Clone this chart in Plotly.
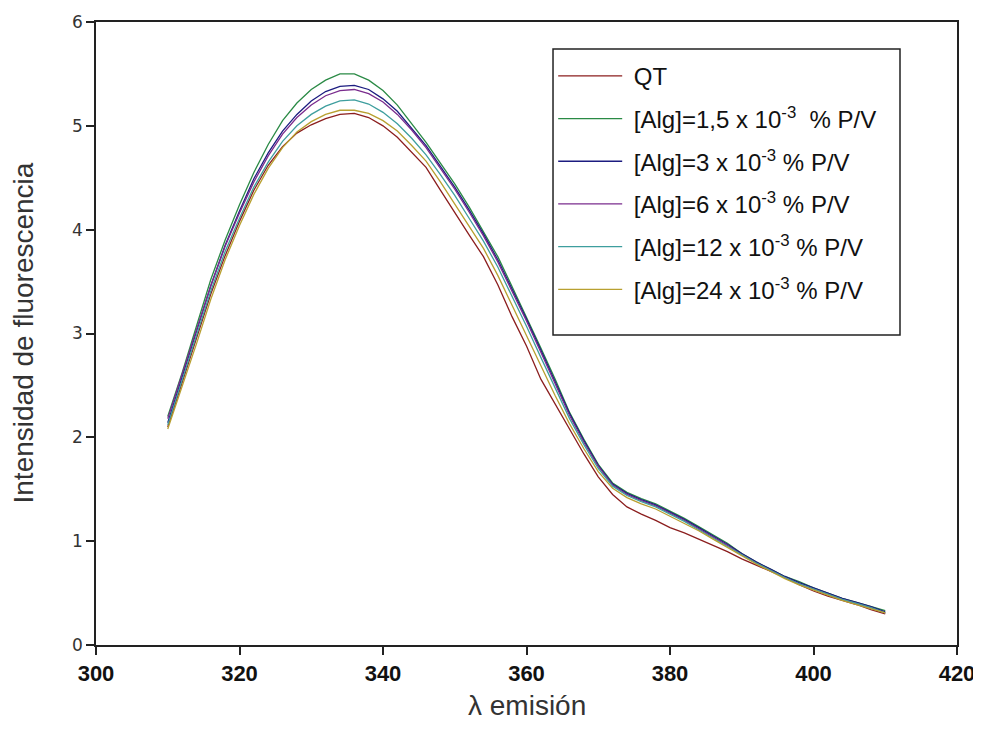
import plotly.graph_objects as go

wavelength = list(range(310, 411, 2))

qt = [2.10, 2.52, 2.95, 3.38, 3.75, 4.08, 4.38, 4.62, 4.80, 4.93, 5.01, 5.07, 5.11, 5.12, 5.08,
      5.00, 4.89, 4.74, 4.60, 4.38, 4.16, 3.95, 3.74, 3.47, 3.16, 2.88, 2.56, 2.32, 2.07, 1.84,
      1.62, 1.45, 1.33, 1.26, 1.20, 1.13, 1.08, 1.02, 0.96, 0.90, 0.83, 0.77, 0.71, 0.65, 0.58,
      0.52, 0.47, 0.43, 0.39, 0.34, 0.30]

alg_1_5 = [2.20, 2.62, 3.07, 3.52, 3.90, 4.24, 4.55, 4.82, 5.05, 5.22, 5.35, 5.44, 5.50, 5.50, 5.44,
           5.34, 5.20, 5.02, 4.84, 4.64, 4.44, 4.22, 3.98, 3.74, 3.45, 3.16, 2.86, 2.56, 2.24, 1.98,
           1.74, 1.56, 1.47, 1.41, 1.36, 1.29, 1.22, 1.14, 1.06, 0.98, 0.88, 0.80, 0.73, 0.66, 0.61,
           0.55, 0.50, 0.45, 0.41, 0.37, 0.33]

alg_3 = [2.14, 2.58, 3.02, 3.46, 3.85, 4.18, 4.49, 4.74, 4.95, 5.11, 5.24, 5.33, 5.38, 5.39, 5.35,
         5.26, 5.14, 4.98, 4.81, 4.61, 4.41, 4.19, 3.96, 3.71, 3.43, 3.14, 2.84, 2.54, 2.23, 1.97,
         1.73, 1.55, 1.46, 1.40, 1.35, 1.28, 1.21, 1.13, 1.05, 0.97, 0.88, 0.80, 0.73, 0.66, 0.60,
         0.55, 0.50, 0.45, 0.41, 0.37, 0.32]

alg_6 = [2.18, 2.60, 3.03, 3.46, 3.84, 4.16, 4.46, 4.71, 4.92, 5.08, 5.20, 5.29, 5.34, 5.35, 5.31,
         5.23, 5.11, 4.96, 4.79, 4.59, 4.39, 4.17, 3.94, 3.69, 3.41, 3.12, 2.82, 2.52, 2.21, 1.95,
         1.72, 1.54, 1.45, 1.39, 1.34, 1.27, 1.20, 1.12, 1.04, 0.96, 0.87, 0.79, 0.72, 0.65, 0.59,
         0.54, 0.49, 0.44, 0.40, 0.36, 0.31]

alg_12 = [2.12, 2.54, 2.98, 3.41, 3.79, 4.11, 4.41, 4.65, 4.85, 5.00, 5.11, 5.19, 5.24, 5.25, 5.21,
          5.13, 5.02, 4.88, 4.72, 4.53, 4.33, 4.11, 3.89, 3.64, 3.36, 3.07, 2.77, 2.48, 2.18, 1.93,
          1.70, 1.53, 1.44, 1.38, 1.33, 1.26, 1.19, 1.11, 1.03, 0.95, 0.87, 0.79, 0.72, 0.65, 0.59,
          0.54, 0.49, 0.44, 0.40, 0.36, 0.31]

alg_24 = [2.08, 2.48, 2.90, 3.33, 3.71, 4.04, 4.34, 4.59, 4.79, 4.94, 5.04, 5.11, 5.15, 5.15, 5.12,
          5.05, 4.95, 4.81, 4.66, 4.46, 4.25, 4.04, 3.82, 3.56, 3.27, 2.98, 2.68, 2.40, 2.13, 1.89,
          1.67, 1.51, 1.42, 1.36, 1.31, 1.24, 1.17, 1.10, 1.02, 0.94, 0.86, 0.78, 0.71, 0.64, 0.58,
          0.53, 0.48, 0.43, 0.39, 0.35, 0.31]

series_names = [
    "QT",
    "[Alg]=1,5 x 10<sup>-3</sup>  % P/V",
    "[Alg]=3 x 10<sup>-3</sup> % P/V",
    "[Alg]=6 x 10<sup>-3</sup> % P/V",
    "[Alg]=12 x 10<sup>-3</sup> % P/V",
    "[Alg]=24 x 10<sup>-3</sup> % P/V",
]
series_values = [qt, alg_1_5, alg_3, alg_6, alg_12, alg_24]
colors = ["#8B1E1E", "#2A8A45", "#1C1C80", "#7A2C8E", "#3E9E9E", "#B8A030"]

x_ticks = [300, 320, 340, 360, 380, 400, 420]
y_ticks = [0, 1, 2, 3, 4, 5, 6]
x_title = "λ emisión"
y_title = "Intensidad de fluorescencia"

fig = go.Figure()
for name, vals, col in zip(series_names, series_values, colors):
    fig.add_trace(go.Scatter(x=wavelength, y=vals, mode="lines", name="\u00a0" + name,
                             legendgroup=name,
                             line=dict(color=col, width=1.3)))

title_font = dict(family="Liberation Sans, Arial, sans-serif", size=28, color="#333333")

fig.update_layout(
    width=981, height=747,
    margin=dict(l=88, r=32, t=14, b=110),
    paper_bgcolor="white", plot_bgcolor="white",
    showlegend=True,
    legend=dict(
        x=0.531, y=0.949, xanchor="left", yanchor="top",
        borderwidth=0, bgcolor="rgba(0,0,0,0)",
        font=dict(family="Liberation Sans, Arial, sans-serif", size=24, color="#111111"),
        itemwidth=64, tracegroupgap=8.5,
    ),
    shapes=[
        dict(type="rect", xref="paper", yref="paper", x0=0.5308, x1=0.9338,
             y0=0.4976, y1=0.9567, line=dict(color="#222222", width=1.5),
             fillcolor="white", layer="below"),
    ],
    xaxis=dict(
        range=[300, 420], tickvals=x_ticks, ticktext=[str(v) for v in x_ticks],
        showline=True, linecolor="#222222", linewidth=1.5, mirror=True,
        ticks="outside", ticklen=8, tickcolor="#222222", tickwidth=1.5,
        showgrid=False, zeroline=False, automargin=False,
        tickfont=dict(family="Liberation Sans, Arial, sans-serif",
                      size=22, color="#111111", weight="bold"),
    ),
    yaxis=dict(
        range=[0, 6], tickvals=y_ticks, ticktext=[str(v) for v in y_ticks],
        showline=True, linecolor="#222222", linewidth=1.5, mirror=True,
        ticks="outside", ticklen=8, tickcolor="#222222", tickwidth=1.5,
        showgrid=False, zeroline=False, automargin=False,
        tickfont=dict(family="DejaVu Sans, Verdana, sans-serif", size=17, color="#333333"),
    ),
    annotations=[
        dict(text=x_title, xref="paper", yref="paper", x=0.5, y=0, xanchor="center",
             yanchor="middle", yshift=-60, showarrow=False, font=title_font),
        dict(text=y_title, xref="paper", yref="paper", x=0, y=0.5, xanchor="center",
             yanchor="middle", xshift=-73, textangle=-90, showarrow=False, font=title_font),
    ],
)

fig.write_html("out.html")
